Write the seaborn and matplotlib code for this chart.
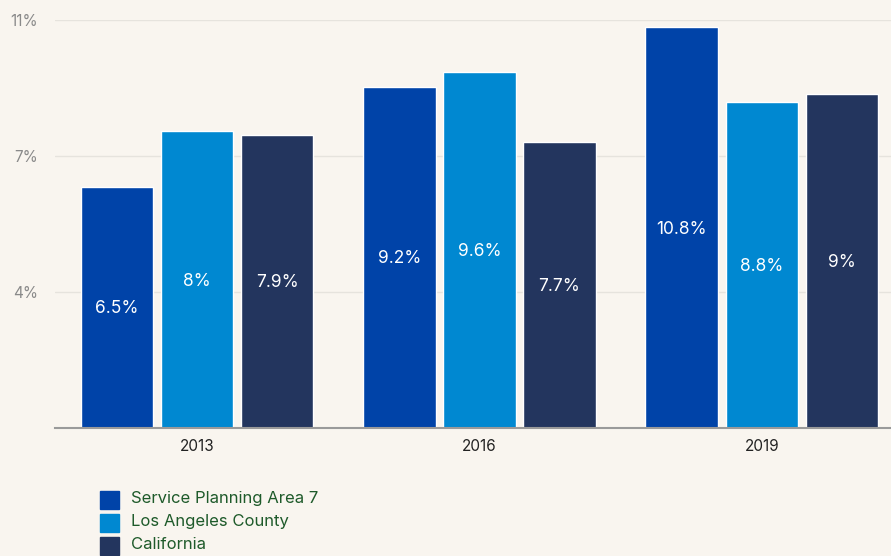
import pandas as pd
import numpy as np
import matplotlib
matplotlib.use('Agg')
import matplotlib.pyplot as plt
import seaborn as sns

years = ['2013', '2016', '2019']
spa7 = [6.5, 9.2, 10.8]
la_county = [8.0, 9.6, 8.8]
california = [7.9, 7.7, 9.0]
series_names = ['Service Planning Area 7', 'Los Angeles County', 'California']
colors = ['#0043A8', '#0088D1', '#23355E']
label_text = [['6.5%', '9.2%', '10.8%'], ['8%', '9.6%', '8.8%'], ['7.9%', '7.7%', '9%']]

df = pd.DataFrame({
    'Year': years * 3,
    'Value': spa7 + la_county + california,
    'Area': [n for n in series_names for _ in years],
})

bg = '#F9F5EF'
sns.set_style('white')
plt.rcParams['font.family'] = ['Inter', 'DejaVu Sans']

fig = plt.figure(figsize=(8.91, 5.56), dpi=100, facecolor=bg)
ax = fig.add_axes([55 / 891, 1 - 428 / 556, (891 - 55) / 891, 408 / 556])
ax.set_facecolor(bg)

sns.barplot(data=df, x='Year', y='Value', hue='Area', palette=colors,
            width=0.85, gap=0.09, ax=ax, legend=False, saturation=1)

ax.set_ylim(0, 11)
ax.set_xlim(-0.503, 2.457)
yt = [11 / 3, 22 / 3, 11]
ax.set_yticks(yt)
ax.set_yticklabels(['4%', '7%', '11%'], color='#8a8a8a', fontsize=11)
ax.yaxis.grid(True, color='#E6E3DD', linewidth=1)
ax.set_axisbelow(True)
ax.tick_params(axis='y', length=0, pad=12)
ax.tick_params(axis='x', length=0, pad=8, labelsize=11, labelcolor='#222222')
ax.set_xlabel('')
ax.set_ylabel('')
for s in ['left', 'right', 'top']:
    ax.spines[s].set_visible(False)
ax.spines['bottom'].set_color('#9a9a9a')
ax.spines['bottom'].set_linewidth(1.5)

for container, labels in zip(ax.containers, label_text):
    for bar, lab in zip(container, labels):
        ax.text(bar.get_x() + bar.get_width() / 2, bar.get_height() / 2 - 0.04, lab,
                ha='center', va='center', color='white', fontsize=12.5)

# legend below the axes
for i, (name, c) in enumerate(zip(series_names, colors)):
    y = 1 - (499.5 + i * 23) / 556
    fig.patches.append(plt.Rectangle((100 / 891, y - 9 / 556), 19 / 891, 18 / 556,
                                     transform=fig.transFigure, color=c))
    fig.text(131 / 891, y + 1 / 556, name, ha='left', va='center', color='#1E5A2A', fontsize=12)

fig.savefig('out.png', dpi=100, facecolor=bg)
